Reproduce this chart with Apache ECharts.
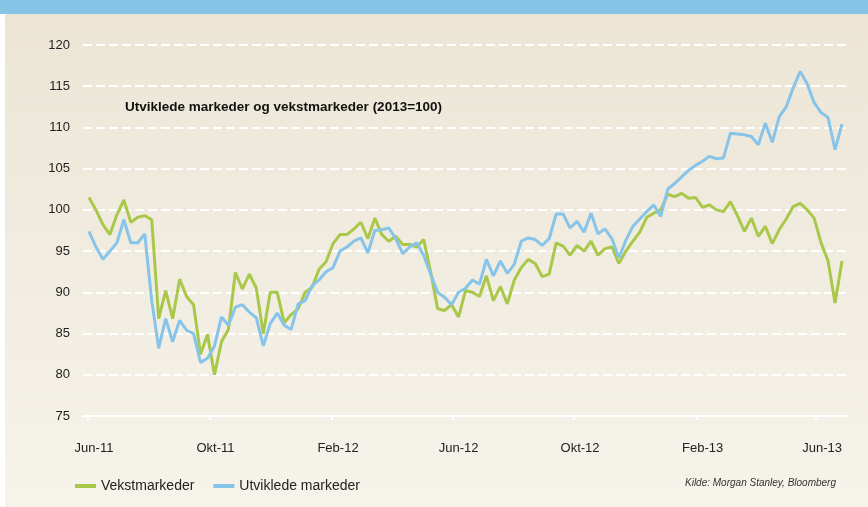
<!DOCTYPE html>
<html><head><meta charset="utf-8">
<script src="https://cdn.jsdelivr.net/npm/echarts@6/dist/echarts.min.js"></script>
<style>html,body{margin:0;padding:0;background:#fff}#c{width:868px;height:507px}</style>
</head><body><div id="c"></div><script>
// Weekly observations starting at this date
const startDate = '2011-06-02';
const originDate = '2011-06-01';
const tickDates = ['2011-06-01','2011-10-01','2012-02-01','2012-06-01','2012-10-01','2013-02-01','2013-06-01'];
const tickLabels = ['Jun-11','Okt-11','Feb-12','Jun-12','Okt-12','Feb-13','Jun-13'];
const yMin = 75, yMax = 120, yStep = 5;

const vekstmarkeder = [
 101.5,100.0,98.2,97.0,99.4,101.2,98.5,99.1,99.3,98.8,
 86.8,90.2,86.8,91.6,89.5,88.5,82.5,84.9,80.0,84.0,
 85.5,92.4,90.4,92.2,90.5,85.0,90.0,90.0,86.3,87.3,
 88.0,90.0,90.6,92.8,93.7,95.9,97.0,97.0,97.7,98.5,
 96.5,99.0,97.0,96.2,96.8,95.8,95.8,95.5,96.4,92.5,
 88.0,87.8,88.5,87.0,90.2,90.0,89.5,92.0,89.0,90.7,
 88.6,91.5,93.0,94.0,93.5,91.9,92.2,96.0,95.6,94.5,
 95.7,95.0,96.2,94.5,95.3,95.5,93.5,95.0,96.2,97.3,
 99.1,99.6,100.0,101.9,101.6,102.0,101.4,101.5,100.3,100.6,
 100.0,99.8,101.0,99.3,97.4,99.0,96.8,98.0,95.9,97.6,
 98.9,100.4,100.8,100.0,99.0,96.0,93.8,88.7,93.8
];
const utvikledeMarkeder = [
 97.4,95.5,94.0,95.0,96.0,98.8,96.0,96.0,97.1,89.0,
 83.2,86.8,84.0,86.6,85.4,85.0,81.5,82.0,83.5,87.0,
 86.0,88.2,88.5,87.6,86.9,83.5,86.2,87.5,86.0,85.5,
 88.6,89.0,90.8,91.5,92.5,93.0,95.0,95.5,96.2,96.6,
 94.8,97.5,97.6,97.8,96.5,94.7,95.5,96.0,94.5,92.2,
 90.0,89.4,88.5,90.0,90.5,91.5,91.0,94.0,92.0,93.8,
 92.3,93.4,96.2,96.6,96.4,95.7,96.5,99.5,99.5,97.8,
 98.6,97.3,99.6,97.1,97.7,96.5,94.2,96.3,98.0,98.9,
 99.8,100.6,99.2,102.5,103.2,104.0,104.8,105.4,105.9,106.5,
 106.2,106.3,109.3,109.2,109.1,108.9,107.9,110.5,108.2,111.3,
 112.5,114.8,116.8,115.3,113.0,111.8,111.2,107.3,110.4
];

const DAY = 86400000;
const dayOf = s => Math.round((Date.parse(s + 'T00:00:00Z') - Date.parse(originDate + 'T00:00:00Z')) / DAY);
const start = dayOf(startDate);
const xDays = vekstmarkeder.map((_, i) => start + 7 * i);
const tickDays = tickDates.map(dayOf);

const FONT = "'Liberation Sans', Arial, sans-serif";
const chart = echarts.init(document.getElementById('c'), null, {renderer: 'canvas'});
chart.setOption({
  animation: false,
  backgroundColor: new echarts.graphic.LinearGradient(0, 0, 0, 1, [
    {offset: 0, color: '#ece5d5'}, {offset: 1, color: '#f6f3eb'}
  ]),
  grid: {left: 83, right: 21, top: 45, bottom: 91},
  xAxis: {
    type: 'value', min: -5, max: 762,
    axisLine: {show: true, lineStyle: {color: '#ffffff', width: 2}},
    axisTick: {show: true, customValues: tickDays, length: 4, lineStyle: {color: '#ffffff', width: 2}},
    axisLabel: {
      customValues: tickDays, margin: 26, color: '#222', fontFamily: FONT, fontSize: 13,
      padding: [0, 0, 0, 12],
      formatter: v => tickLabels[tickDays.indexOf(v)] || ''
    },
    splitLine: {show: false}
  },
  yAxis: {
    type: 'value', min: yMin, max: yMax, interval: yStep,
    axisLine: {show: false}, axisTick: {show: false},
    axisLabel: {color: '#222', fontFamily: FONT, fontSize: 13, margin: 13},
    splitLine: {show: true, lineStyle: {color: '#ffffff', width: 2, type: [9, 4]}}
  },
  legend: {
    left: 75, top: 479, padding: 0, itemWidth: 21, itemHeight: 4, itemGap: 19, icon: 'rect',
    textStyle: {color: '#222', fontFamily: FONT, fontSize: 14},
    data: ['Vekstmarkeder', 'Utviklede markeder']
  },
  graphic: [
    {type: 'rect', left: 0, top: 0, shape: {width: 868, height: 14}, style: {fill: '#86c3e7'}, silent: true},
    {type: 'rect', left: 0, top: 14, shape: {width: 5, height: 493}, style: {fill: '#ffffff'}, silent: true},
    {type: 'text', left: 125, top: 100, style: {text: 'Utviklede markeder og vekstmarkeder (2013=100)', fill: '#111', font: "bold 13.5px 'Liberation Sans', Arial, sans-serif"}},
    {type: 'text', right: 32, top: 478, style: {text: 'Kilde: Morgan Stanley, Bloomberg', fill: '#333', font: "italic 10px 'Liberation Sans', Arial, sans-serif"}}
  ],
  series: [
    {name: 'Vekstmarkeder', type: 'line', showSymbol: false, color: '#a9c84a',
     lineStyle: {width: 3, color: '#a9c84a'}, data: xDays.map((d, i) => [d, vekstmarkeder[i]])},
    {name: 'Utviklede markeder', type: 'line', showSymbol: false, color: '#86c4e9',
     lineStyle: {width: 3, color: '#86c4e9'}, data: xDays.map((d, i) => [d, utvikledeMarkeder[i]])}
  ]
});
</script></body></html>
